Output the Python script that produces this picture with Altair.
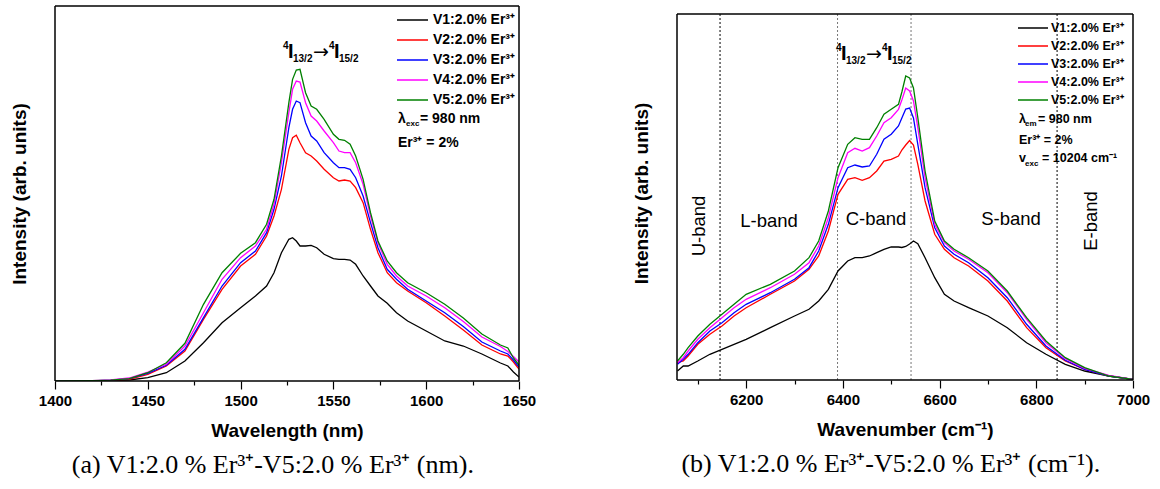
import altair as alt
import pandas as pd

FONT = "Liberation Sans"
SERIF = "Liberation Serif"

series_names = ["V1:2.0% Er³⁺", "V2:2.0% Er³⁺", "V3:2.0% Er³⁺", "V4:2.0% Er³⁺", "V5:2.0% Er³⁺"]
series_colors = ["#000000", "#ff0000", "#0000ff", "#ff00ff", "#008000"]

# ---------- panel (a): wavelength (nm) ----------
wl_nm = [1400, 1420, 1430, 1440, 1450, 1460, 1470, 1480, 1490, 1500, 1508, 1514, 1518, 1522,
         1526, 1528, 1530, 1532, 1535, 1538, 1541, 1545, 1550, 1553, 1556, 1559, 1562, 1566,
         1570, 1574, 1579, 1584, 1590, 1600, 1610, 1620, 1630, 1640, 1644, 1647, 1650]
v1_nm = [0, 0, 0.3, 1, 3.3, 8.3, 20, 38.3, 58.3, 73.3, 85, 95, 108.3, 128.3,
         141.7, 143.3, 140, 135, 135, 135.7, 133.3, 126.7, 122.3, 121.7, 121.7, 121, 116.7, 105,
         95, 85, 77.7, 68.3, 60, 50, 40, 35, 27, 18, 15, 9, 4]
v2_nm = [0, 0.2, 0.6, 1.7, 6.7, 15, 30, 61.7, 91.7, 115, 126.7, 145, 165, 191.7,
         231.7, 243.3, 245.7, 238.3, 228.3, 225, 220, 211.7, 203.3, 200, 201, 200, 193.3, 178.3,
         151.7, 128.3, 108.3, 98.3, 90, 78.3, 65, 51, 36, 27, 25, 19, 12]
v3_nm = [0, 0.2, 0.8, 2.3, 7.7, 15.7, 31.7, 63.3, 95, 118.3, 130, 148.3, 171.7, 205,
         253.3, 271.7, 280, 278.3, 258.3, 245, 240, 228.3, 218.3, 213.3, 213.3, 211.7, 203.3, 185,
         158.3, 133.3, 111.7, 101.7, 91.7, 80, 68.3, 54.5, 39, 30, 27, 21, 14]
v4_nm = [0, 0.3, 1, 3, 9, 16.7, 35, 68.3, 101.7, 123.3, 135, 151.7, 176.7, 218.3,
         268.3, 291.7, 300, 299, 278.3, 265, 260, 250, 238.3, 230, 228.3, 228.3, 218.3, 196.7,
         165, 138.3, 116.7, 105, 95, 85, 73.3, 59.5, 44, 34.5, 29.5, 24.5, 19]
v5_nm = [0, 0.3, 0.8, 2.3, 8.3, 18.3, 37.7, 76.7, 108.3, 127.7, 138.3, 156.7, 181.7, 225,
         278.3, 301.7, 311, 311.7, 288.3, 275, 271.7, 261.7, 246.7, 241.7, 240.7, 236.7, 225, 201.7,
         168.3, 140, 120, 108.3, 98.3, 88.3, 76.7, 63, 47, 36, 33, 23, 16]

nm_ticks = [1400, 1425, 1450, 1475, 1500, 1525, 1550, 1575, 1600, 1625, 1650]

# ---------- panel (b): wavenumber (cm-1) ----------
wn_cm = [6058, 6070, 6080, 6100, 6125, 6150, 6175, 6200, 6250, 6300, 6330, 6350, 6370, 6390,
         6410, 6425, 6440, 6455, 6470, 6485, 6500, 6515, 6522, 6530, 6538, 6546, 6555, 6570,
         6590, 6610, 6630, 6660, 6700, 6740, 6780, 6820, 6860, 6900, 6950, 7000]
v1_cm = [9, 14, 14, 19, 25.7, 30.7, 35.7, 40.7, 52.3, 64, 70.7, 79, 90.7, 109,
         119, 122.3, 122.3, 124, 127.3, 130.7, 133, 133, 132.5, 133.5, 136, 139, 136.3, 122.3,
         102.3, 85.7, 79, 72.3, 64, 52.3, 37.3, 25.7, 15.7, 9, 4, 0.7]
v2_cm = [17.3, 19, 24, 35.7, 45.7, 54, 64, 72.3, 85.7, 99, 110.7, 124, 149, 185.7,
         200.7, 202.3, 199.7, 202.3, 209, 219, 220.7, 224, 230, 235, 239.5, 235, 215.7, 179,
         145.7, 130.7, 122.3, 114, 99, 79, 52.3, 32.3, 19, 10.7, 4, 0.7]
v3_cm = [15.7, 20.7, 25.7, 37.3, 49, 57.3, 67.3, 75.7, 87.3, 100.7, 112.3, 129, 155.7, 192.3,
         212.3, 215, 213, 214, 225.7, 240.7, 245.7, 254, 262, 271, 272, 262, 235.7, 192.3,
         152.3, 134, 125.7, 117.3, 102.3, 82.3, 55.7, 34, 19.7, 10.7, 4, 0.7]
v4_cm = [17.3, 22.3, 29, 40.7, 52.3, 62.3, 72.3, 80.7, 92.3, 105.7, 117.3, 134, 162.3, 202.3,
         227.3, 231.7, 229, 232.3, 244, 257.3, 262.3, 270.7, 280, 292, 289, 279, 252.3, 202.3,
         155.7, 137.3, 129, 120.7, 107.3, 87.3, 60.7, 37.3, 21.3, 11.7, 4.7, 0.7]
v5_cm = [19, 25.7, 32.3, 44, 55.7, 65.7, 75.7, 85.7, 95.7, 109, 122.3, 139, 169, 212.3,
         235.7, 242.3, 240.7, 240.7, 252.3, 265.7, 270.7, 275.7, 288, 304, 302, 292, 262.3, 209,
         159, 139, 130.7, 122.3, 109, 89, 62.3, 39, 22.3, 12.3, 4, 0.7]

cm_ticks = [6100, 6200, 6300, 6400, 6500, 6600, 6700, 6800, 6900, 7000]
band_edges_cm = [6146, 6389, 6541, 6843]
band_edge_colors = ["#000000", "#777777", "#777777", "#000000"]
band_labels = ["U-band", "L-band", "C-band", "S-band", "E-band"]


def long_df(x, ys):
    rows = []
    for name, vals in zip(series_names, ys):
        for xv, yv in zip(x, vals):
            rows.append({"x": xv, "intensity": yv, "series": name})
    return pd.DataFrame(rows)


df_nm = long_df(wl_nm, [v1_nm, v2_nm, v3_nm, v4_nm, v5_nm])
df_cm = long_df(wn_cm, [v1_cm, v2_cm, v3_cm, v4_cm, v5_cm])

ONE = pd.DataFrame({"t": [""]})


def x_axis(title, ticks, major):
    return alt.Axis(
        title=title, values=ticks, grid=False, domain=False, format="d",
        labelExpr=f"datum.value % {major} === 0 ? datum.label : ''",
        tickSize={"condition": {"test": f"datum.value % {major} === 0", "value": 8}, "value": 4},
        tickColor="black", tickWidth=1.2,
        labelFont=FONT, labelFontSize=15, labelFontWeight="bold", labelColor="black",
        labelPadding=4, labelFlush=False,
        titleFont=FONT, titleFontSize=19, titleFontWeight="bold", titleColor="black",
        titlePadding=13,
    )


y_axis = alt.Axis(title="Intensity (arb. units)", ticks=False, labels=False, domain=False,
                  grid=False, titleFont=FONT, titleFontSize=19, titleFontWeight="bold",
                  titleColor="black", titlePadding=26)


def curves(df, xdom, ydom, xtitle, ticks, major):
    return alt.Chart(df).mark_line(strokeWidth=1.3, clip=True).encode(
        x=alt.X("x:Q", scale=alt.Scale(domain=xdom, nice=False, zero=False),
                axis=x_axis(xtitle, ticks, major)),
        y=alt.Y("intensity:Q", scale=alt.Scale(domain=ydom, nice=False), axis=y_axis),
        color=alt.Color("series:N", scale=alt.Scale(domain=series_names, range=series_colors),
                        legend=None),
        order=alt.Order("x:Q"),
    )


def frame(w, top, bottom):
    r = dict(color="black", strokeWidth=1.5)
    return [
        alt.Chart(ONE).mark_rule(**r).encode(x=alt.value(0), x2=alt.value(w), y=alt.value(top)),
        alt.Chart(ONE).mark_rule(**r).encode(x=alt.value(0), x2=alt.value(w), y=alt.value(bottom)),
        alt.Chart(ONE).mark_rule(**r).encode(x=alt.value(0), y=alt.value(top), y2=alt.value(bottom)),
        alt.Chart(ONE).mark_rule(**r).encode(x=alt.value(w), y=alt.value(top), y2=alt.value(bottom)),
    ]


def txt(s, px, py, size, weight="bold", align="left", angle=0, font=FONT):
    kw = dict(align=align, baseline="middle", font=font, fontSize=size,
              fontWeight=weight, color="black")
    if angle:
        kw["angle"] = angle
    return alt.Chart(pd.DataFrame({"t": [s]})).mark_text(**kw).encode(
        text="t:N", x=alt.value(px), y=alt.value(py))


def legend_layers(x1, x2, xt, y0, dy, size):
    layers = []
    for i, (n, c) in enumerate(zip(series_names, series_colors)):
        y = y0 + dy * i
        layers.append(alt.Chart(ONE).mark_rule(strokeWidth=1.5, color=c)
                      .encode(x=alt.value(x1), x2=alt.value(x2), y=alt.value(y)))
        layers.append(txt(n, xt, y, size))
    return layers


def transition(px, py):
    # 4I13/2 -> 4I15/2
    return [
        txt("4", px, py - 6, 10),
        txt("I", px + 5, py, 20),
        txt("13/2", px + 10, py + 7, 10),
        txt("→", px + 30, py, 19, weight="normal", font="DejaVu Sans"),
        txt("4", px + 46, py - 6, 10),
        txt("I", px + 51, py, 20),
        txt("15/2", px + 56, py + 7, 10),
    ]


# ---------- panel (a) ----------
left_layers = [curves(df_nm, [1400, 1650], [0, 375], "Wavelength (nm)", nm_ticks, 50)]
left_layers += frame(464, 0, 375)
left_layers += legend_layers(342, 373, 378, 14, 20, 14)
left_layers += [
    txt("λ", 343, 113, 14),
    txt("exc", 351, 118, 8),
    txt("= 980 nm", 365, 113, 14),
    txt("Er³⁺ = 2%", 343, 137, 14),
]
left_layers += transition(228, 46)

left = alt.layer(*left_layers).properties(
    width=464, height=375,
    title=alt.TitleParams("(a) V1:2.0 % Er³⁺-V5:2.0 % Er³⁺ (nm).", orient="bottom",
                          anchor="middle", frame="bounds", font=SERIF, fontSize=26,
                          fontWeight="normal", color="black", offset=12),
)

# ---------- panel (b) ----------
T = 8  # frame top inside the view
edges_df = pd.DataFrame({"edge": band_edges_cm, "col": band_edge_colors})
edges = alt.Chart(edges_df).mark_rule(strokeDash=[2, 2], strokeWidth=1).encode(
    x=alt.X("edge:Q"),
    y=alt.value(T), y2=alt.value(374),
    color=alt.Color("col:N", scale=None),
)

right_layers = [edges,
                curves(df_cm, [6057, 7000], [0, 374], "Wavenumber (cm⁻¹)", cm_ticks, 200)]
right_layers += frame(456, T, 374)
right_layers += legend_layers(341, 371, 374, 22, 18, 12.5)
right_layers += [
    txt("λ", 342, 113, 12.5),
    txt("em", 348, 118, 8),
    txt("= 980 nm", 361, 113, 12.5),
    txt("Er³⁺ = 2%", 342, 134, 12.5),
    txt("v", 342, 152, 12.5),
    txt("exc", 348, 158, 8),
    txt("= 10204 cm⁻¹", 365, 152, 12.5),
]
right_layers += transition(159, 48)
right_layers += [
    txt(band_labels[0], 22, 220, 18.5, weight="normal", align="center", angle=270),
    txt(band_labels[1], 92, 215, 18.5, weight="normal", align="center"),
    txt(band_labels[2], 199, 213, 18.5, weight="normal", align="center"),
    txt(band_labels[3], 334, 213, 18.5, weight="normal", align="center"),
    txt(band_labels[4], 414, 215, 18.5, weight="normal", align="center", angle=270),
]

right = alt.layer(*right_layers).properties(
    width=456, height=374,
    title=alt.TitleParams("(b) V1:2.0 % Er³⁺-V5:2.0 % Er³⁺ (cm⁻¹).", orient="bottom",
                          anchor="middle", frame="bounds", font=SERIF, fontSize=26,
                          fontWeight="normal", color="black", offset=12),
)

chart = alt.hconcat(left, right, spacing=96).properties(
    padding={"left": 10, "top": 5, "right": 5, "bottom": 5},
    background="white",
).configure_view(strokeWidth=0)

chart.save("out.html", embed_options={"renderer": "svg", "actions": False})
